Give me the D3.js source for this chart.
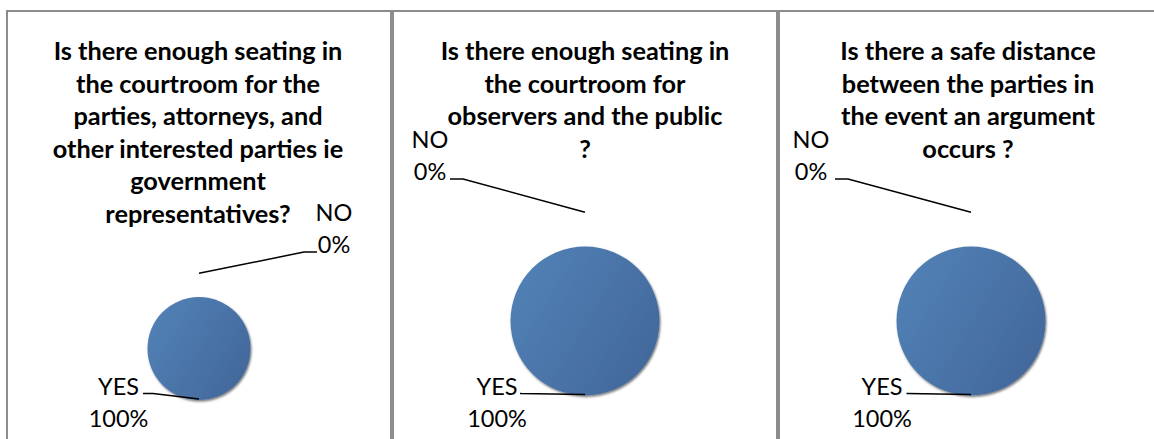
<!DOCTYPE html>
<html>
<head>
<meta charset="utf-8">
<script src="https://cdn.jsdelivr.net/npm/d3@7"></script>
<style>
  html, body { margin: 0; padding: 0; background: #fff; }
  svg { display: block; }
</style>
</head>
<body>
<svg id="chart" width="1154" height="439"></svg>
<script>
// Survey questions (one pie per question)
const questions = [
  ["Is there enough seating in", "the courtroom for the", "parties, attorneys, and",
   "other interested parties ie", "government", "representatives?"],
  ["Is there enough seating in", "the courtroom for", "observers and the public", "?"],
  ["Is there a safe distance", "between the parties in", "the event an argument", "occurs ?"]
];
const categories = ["YES", "NO"];
const yesPct = [100, 100, 100];
const noPct = [0, 0, 0];

// Panel layout: frame, pie placement and label placement
const panels = [
  { x: 7,   titleX: 198, cx: 199, cy: 348.5, r: 51.5,
    yesLabel: [118.5, 395], yesElbow: 153, noLabel: [334, 221], noElbow: [304, 252, 317] },
  { x: 393, titleX: 585, cx: 585, cy: 321, r: 74.5,
    yesLabel: [497, 395], yesElbow: 520, noLabel: [430, 148], noElbow: [463, 179, 450] },
  { x: 779, titleX: 968, cx: 971, cy: 321, r: 74.5,
    yesLabel: [882, 395], yesElbow: 907, noLabel: [811, 148], noElbow: [848, 179, 835] }
];

const svg = d3.select("#chart");
const defs = svg.append("defs");

const grad = defs.append("linearGradient").attr("id", "pieFill")
  .attr("x1", "0%").attr("y1", "20%").attr("x2", "100%").attr("y2", "80%");
grad.append("stop").attr("offset", "0%").attr("stop-color", "#5281b6");
grad.append("stop").attr("offset", "100%").attr("stop-color", "#42679a");

const shadow = defs.append("filter").attr("id", "pieShadow")
  .attr("x", "-20%").attr("y", "-20%").attr("width", "140%").attr("height", "140%");
shadow.append("feDropShadow").attr("dx", 1).attr("dy", 1.5)
  .attr("stdDeviation", 1.2).attr("flood-color", "#000").attr("flood-opacity", 0.55);

const pie = d3.pie().sort(null).value(d => d.value);
const lineGen = d3.line();

panels.forEach((p, i) => {
  const g = svg.append("g");

  // frame
  g.append("rect")
    .attr("x", p.x).attr("y", 11)
    .attr("width", 384).attr("height", 460)
    .attr("fill", "#fff")
    .attr("stroke", "#8c8c8c").attr("stroke-width", 2);

  // title
  const title = g.append("text")
    .attr("text-anchor", "middle")
    .attr("font-family", "Lato, 'Open Sans', sans-serif")
    .attr("font-weight", "bold")
    .attr("font-size", 25.3)
    .attr("fill", "#000");
  questions[i].forEach((line, k) => {
    title.append("tspan").attr("x", p.titleX).attr("y", 60 + k * 32.6).text(line);
  });

  const data = categories.map((c, k) => ({ cat: c, value: k === 0 ? yesPct[i] : noPct[i] }));
  const arcs = pie(data);
  const arc = d3.arc().innerRadius(0).outerRadius(p.r);

  g.append("g")
    .attr("transform", `translate(${p.cx},${p.cy})`)
    .selectAll("path")
    .data(arcs.filter(a => a.endAngle > a.startAngle))
    .join("path")
    .attr("d", arc)
    .attr("fill", "url(#pieFill)")
    .attr("filter", "url(#pieShadow)");

  const point = (a, rad) => {
    const m = (a.startAngle + a.endAngle) / 2;
    return [p.cx + rad * Math.sin(m), p.cy - rad * Math.cos(m)];
  };

  // leader lines
  const yesA = arcs[0], noA = arcs[1];
  const yesPt = point(yesA, p.r - 1);
  const noPt = point(noA, p.r * 1.46);
  const yesY = p.yesLabel[1] - 1.5;

  g.append("path")
    .attr("d", lineGen([[p.yesLabel[0] + 24.5, yesY], [p.yesElbow, yesY], yesPt]))
    .attr("fill", "none").attr("stroke", "#000").attr("stroke-width", 1.5);
  g.append("path")
    .attr("d", lineGen([noPt, [p.noElbow[0], p.noElbow[1]], [p.noElbow[2], p.noElbow[1]]]))
    .attr("fill", "none").attr("stroke", "#000").attr("stroke-width", 1.5);

  // data labels
  const lbl = (pos, a) => {
    const t = g.append("text")
      .attr("text-anchor", "middle")
      .attr("font-family", "Lato, 'Open Sans', sans-serif")
      .attr("font-size", 23.5)
      .attr("fill", "#000");
    t.append("tspan").attr("x", pos[0]).attr("y", pos[1]).text(a.data.cat);
    t.append("tspan").attr("x", pos[0]).attr("y", pos[1] + 32).text(a.data.value + "%");
  };
  lbl(p.yesLabel, yesA);
  lbl(p.noLabel, noA);
});
</script>
</body>
</html>
